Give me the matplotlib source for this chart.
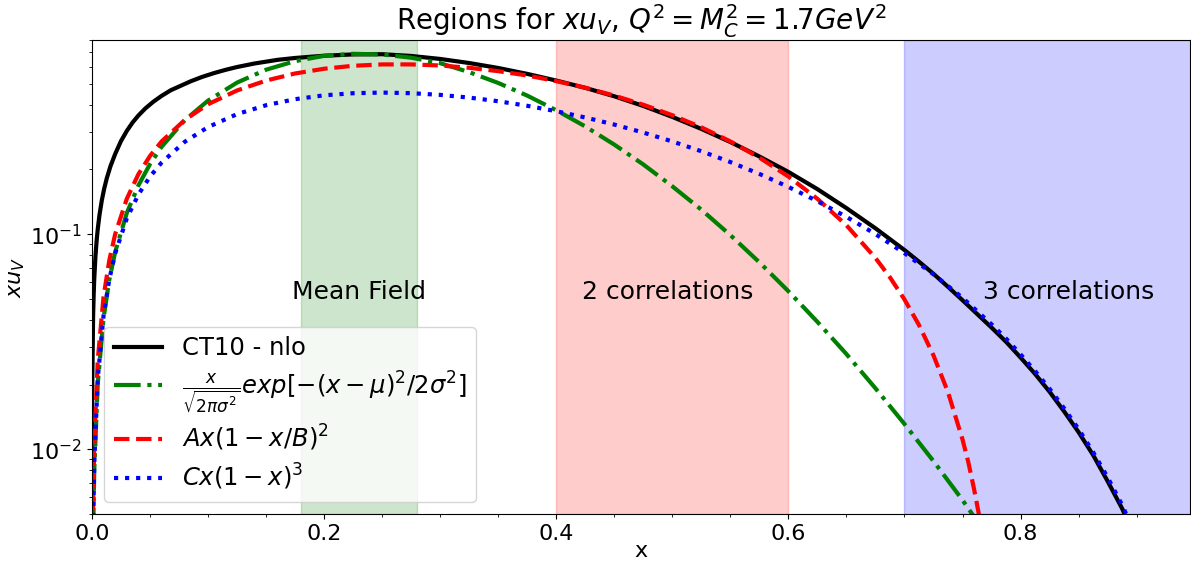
#!/usr/bin/env python3
# regions for x*u_V : CT10 nlo and the three fits

import numpy as np
import matplotlib
matplotlib.use("Agg")
import matplotlib.pyplot as plt
from matplotlib.ticker import MultipleLocator

# values
x_ct10 = [2e-5, 1e-4, 3e-4, 0.001, 0.0015, 0.002, 0.003, 0.004, 0.005, 0.0065,
          0.0085, 0.0105, 0.0128, 0.016, 0.02, 0.025, 0.03, 0.035, 0.04, 0.046,
          0.053, 0.06, 0.068, 0.075, 0.085, 0.095, 0.105, 0.115, 0.125, 0.14,
          0.16, 0.175, 0.2, 0.225, 0.25, 0.275, 0.3, 0.325, 0.35, 0.375,
          0.4, 0.425, 0.45, 0.475, 0.5, 0.525, 0.55, 0.575, 0.6, 0.625,
          0.65, 0.675, 0.7, 0.7125, 0.725, 0.7375, 0.75, 0.7625, 0.775, 0.7875,
          0.8, 0.8125, 0.825, 0.8375, 0.85, 0.8625, 0.875, 0.8875, 0.9]
y_ct10 = [0.0043, 0.0109, 0.0206, 0.0415, 0.0526, 0.0621, 0.0785, 0.0928, 0.1056, 0.123,
          0.1437, 0.1624, 0.1822, 0.2074, 0.236, 0.271, 0.302, 0.3307, 0.3563, 0.3845,
          0.4135, 0.4398, 0.4674, 0.486, 0.514, 0.539, 0.561, 0.581, 0.599, 0.622,
          0.647, 0.66, 0.676, 0.6855, 0.687, 0.6745, 0.6531, 0.6252, 0.5929, 0.5566,
          0.5181, 0.4792, 0.4379, 0.3948, 0.3511, 0.3087, 0.2683, 0.2298, 0.1948, 0.162,
          0.1322, 0.1065, 0.0844, 0.0745, 0.0654, 0.0569, 0.0493, 0.0426, 0.0368, 0.0316,
          0.0267, 0.0224, 0.0185, 0.0150, 0.0120, 0.0094, 0.0071, 0.0053, 0.0037]

x_gauss = [0.001, 0.002, 0.005, 0.01, 0.015, 0.02, 0.03, 0.04, 0.05, 0.06,
           0.08, 0.1, 0.125, 0.15, 0.175, 0.2, 0.225, 0.25, 0.275, 0.3,
           0.325, 0.35, 0.375, 0.4, 0.425, 0.45, 0.475, 0.5, 0.525, 0.55,
           0.575, 0.6, 0.625, 0.65, 0.675, 0.7, 0.725, 0.75, 0.775, 0.8]
y_gauss = [0.0040, 0.0080, 0.0202, 0.0407, 0.0616, 0.0826, 0.1253, 0.1685, 0.2118, 0.2549,
           0.339, 0.418, 0.507, 0.582, 0.638, 0.675, 0.69, 0.685, 0.662, 0.624,
           0.567, 0.505, 0.441, 0.377, 0.317, 0.261, 0.211, 0.167, 0.130, 0.099,
           0.074, 0.0543, 0.0391, 0.0277, 0.0192, 0.0131, 0.0088, 0.0058, 0.0037, 0.0023]

x_quad = [0.001, 0.002, 0.005, 0.01, 0.015, 0.02, 0.03, 0.04, 0.05, 0.06,
          0.08, 0.1, 0.125, 0.15, 0.175, 0.2, 0.225, 0.25, 0.275, 0.3,
          0.325, 0.35, 0.375, 0.4, 0.425, 0.45, 0.475, 0.5, 0.525, 0.55,
          0.575, 0.6, 0.625, 0.65, 0.675, 0.6875, 0.7, 0.7125, 0.725, 0.7375,
          0.75, 0.755, 0.76, 0.765, 0.77, 0.775]
y_quad = [0.0052, 0.0105, 0.026, 0.0513, 0.0759, 0.100, 0.146, 0.190, 0.231, 0.270,
          0.340, 0.402, 0.466, 0.518, 0.559, 0.588, 0.607, 0.616, 0.616, 0.609,
          0.594, 0.573, 0.547, 0.515, 0.480, 0.441, 0.400, 0.3575, 0.314, 0.270,
          0.227, 0.1855, 0.146, 0.110, 0.0775, 0.063, 0.0497, 0.0378, 0.0273, 0.0184,
          0.0111, 0.0087, 0.0065, 0.0047, 0.0031, 0.0019]

x_cubic = [0.001, 0.002, 0.005, 0.01, 0.015, 0.02, 0.03, 0.04, 0.05, 0.06,
           0.08, 0.1, 0.125, 0.15, 0.175, 0.2, 0.225, 0.25, 0.275, 0.3,
           0.325, 0.35, 0.375, 0.4, 0.425, 0.45, 0.475, 0.5, 0.525, 0.55,
           0.575, 0.6, 0.625, 0.65, 0.675, 0.7, 0.725, 0.75, 0.775, 0.7875,
           0.8, 0.8125, 0.825, 0.8375, 0.85, 0.8625, 0.875, 0.8875, 0.9]
y_cubic = [0.0043, 0.0086, 0.0213, 0.0419, 0.0619, 0.0813, 0.1183, 0.1529, 0.1852, 0.2153,
           0.2691, 0.3149, 0.3617, 0.3979, 0.4245, 0.4424, 0.4525, 0.4556, 0.4527, 0.4445,
           0.4318, 0.4152, 0.3955, 0.3732, 0.349, 0.3235, 0.2969, 0.27, 0.2431, 0.2165,
           0.1907, 0.1659, 0.1424, 0.1204, 0.1001, 0.0816, 0.0651, 0.0506, 0.0381, 0.0327,
           0.0276, 0.0231, 0.0191, 0.0155, 0.0124, 0.0097, 0.0074, 0.0055, 0.0039]

regions = [(0.18, 0.28, 'green'), (0.4, 0.6, 'red'), (0.7, 0.95, 'blue')]
region_labels = [(0.23, 'Mean Field'), (0.496, '2 correlations'), (0.841, '3 correlations')]


def main():
    fig = plt.figure(figsize=(11.91, 5.69), dpi=100)
    ax = fig.add_axes([0.0772, 0.0967, 0.922, 0.833])

    for lo, hi, c in regions:
        ax.axvspan(lo, hi, color=c, alpha=0.2)
    for xt, txt in region_labels:
        ax.text(xt, 0.054, txt, ha='center', va='center', fontsize=18)

    ax.plot(x_ct10, y_ct10, '-', color='black', lw=3, label='CT10 - nlo')
    ax.plot(x_gauss, y_gauss, '-.', color='green', lw=3,
            label=r'$\frac{x}{\sqrt{2\pi\sigma^2}}exp[-(x-\mu)^2/2\sigma^2]$')
    ax.plot(x_quad, y_quad, '--', color='red', lw=3, label=r'$Ax(1-x/B)^2$')
    ax.plot(x_cubic, y_cubic, ':', color='blue', lw=3, label=r'$Cx(1-x)^3$')

    ax.set_yscale('log')
    ax.set_xlim(0, 0.946)
    ax.set_ylim(0.005, 0.8)
    ax.xaxis.set_minor_locator(MultipleLocator(0.05))
    ax.tick_params(labelsize=16)
    ax.set_xlabel('x', fontsize=16, labelpad=-2)
    ax.set_ylabel(r'$xu_V$', fontsize=16, labelpad=2)
    ax.set_title(r'Regions for $xu_V$, $Q^2=M_C^2=1.7GeV^2$', fontsize=20)
    ax.legend(loc='lower left', fontsize=17.5, labelspacing=0.35)

    fig.savefig('out.png', dpi=100)


if __name__ == "__main__":
    main()
